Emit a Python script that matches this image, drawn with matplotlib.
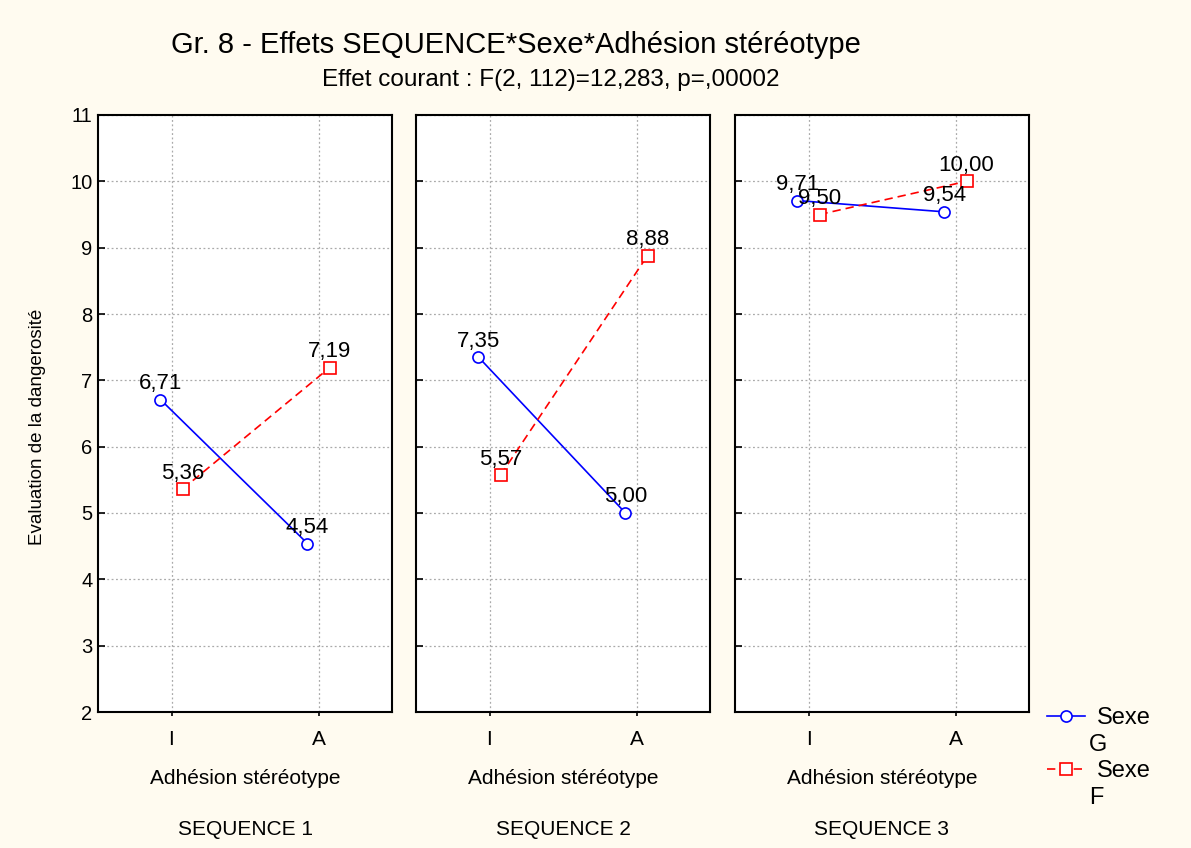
import matplotlib.pyplot as plt
from matplotlib.lines import Line2D

plt.rcParams['font.family'] = ['Liberation Sans', 'DejaVu Sans']

# --- DATA ---
sequences = ["SEQUENCE 1", "SEQUENCE 2", "SEQUENCE 3"]
adhesion = ["I", "A"]
sexe_g = [[6.71, 4.54], [7.35, 5.00], [9.71, 9.54]]
sexe_f = [[5.36, 7.19], [5.57, 8.88], [9.50, 10.00]]
legend_labels = ["Sexe", "G", "Sexe", "F"]

BG = "#fffbf0"
OFF = 0.075
W, H = 1191, 848

g_style = dict(color="blue", lw=1.2, marker="o", ms=8, mfc="white", mec="blue", mew=1.2)
f_style = dict(color="red", lw=1.2, ls=(0, (5, 3)), marker="s", ms=8, mfc="white", mec="red", mew=1.2)

fig = plt.figure(figsize=(11.91, 8.48), dpi=100, facecolor=BG)
lefts = [98, 416, 735]
axes = []
for k, seq in enumerate(sequences):
    ax = fig.add_axes([lefts[k] / W, 1 - 712 / H, 294 / W, 597 / H])
    axes.append(ax)
    x = [0, 1]
    ax.plot([v - OFF for v in x], sexe_g[k], zorder=3, **g_style)
    ax.plot([v + OFF for v in x], sexe_f[k], zorder=3, **f_style)
    for xi, yv in zip(x, sexe_g[k]):
        ax.annotate(f"{yv:.2f}".replace(".", ","), (xi - OFF, yv), xytext=(0, 4),
                    textcoords="offset points", ha="center", va="bottom", fontsize=16)
    for xi, yv in zip(x, sexe_f[k]):
        ax.annotate(f"{yv:.2f}".replace(".", ","), (xi + OFF, yv), xytext=(0, 4),
                    textcoords="offset points", ha="center", va="bottom", fontsize=16)
    ax.set_xlim(-0.5, 1.5)
    ax.set_ylim(2, 11)
    ax.set_xticks(x)
    ax.set_xticklabels(adhesion)
    ax.set_yticks(range(2, 12))
    ax.grid(True, color="#aaaaaa", ls=(0, (1.5, 2)), lw=0.9)
    ax.tick_params(axis="y", direction="in", length=5, width=1.2, pad=4, labelsize=14.5)
    ax.tick_params(axis="x", direction="out", length=3, width=1.2, pad=10, labelsize=15)
    if k > 0:
        ax.tick_params(labelleft=False)
    for s in ax.spines.values():
        s.set_linewidth(1.5)
    ax.text(0.5, -0.112, "Adhésion stéréotype", transform=ax.transAxes,
            ha="center", va="center", fontsize=15)
    ax.text(0.5, -0.196, seq, transform=ax.transAxes,
            ha="center", va="center", fontsize=15)

fig.text(38 / W, 1 - 427 / H, "Evaluation de la dangerosité", rotation=90,
         ha="center", va="center", fontsize=13.5)

fig.text(516 / W, 1 - 45 / H, "Gr. 8 - Effets SEQUENCE*Sexe*Adhésion stéréotype",
         ha="center", va="center", fontsize=21)
fig.text(551 / W, 1 - 80 / H, "Effet courant : F(2, 112)=12,283, p=,00002",
         ha="center", va="center", fontsize=17.5)

# legend drawn by hand so the symbol sits on the first line of each label
for yl, style, top, bottom in [(716, g_style, legend_labels[0], legend_labels[1]),
                               (769, f_style, legend_labels[2], legend_labels[3])]:
    yf = 1 - yl / H
    fig.add_artist(Line2D([1047 / W, 1085 / W], [yf, yf], transform=fig.transFigure,
                          markevery=[], **{k: v for k, v in style.items()}))
    fig.add_artist(Line2D([1066 / W], [yf], transform=fig.transFigure, ls="none",
                          marker=style["marker"], ms=8, mfc="white", mec=style["color"], mew=1.2))
    fig.text(1097 / W, 1 - (yl + 2) / H, top, ha="left", va="center", fontsize=17)
    fig.text(1089 / W, 1 - (yl + 29) / H, bottom, ha="left", va="center", fontsize=17)

fig.savefig("out.png", dpi=100, facecolor=BG)
